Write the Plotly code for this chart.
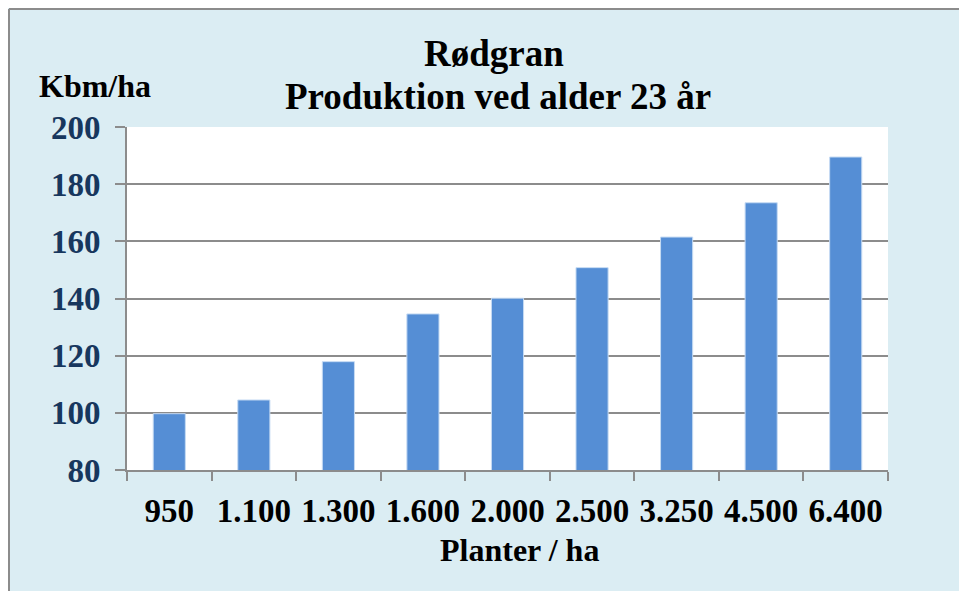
import plotly.graph_objects as go

categories = ["950", "1.100", "1.300", "1.600", "2.000", "2.500", "3.250", "4.500", "6.400"]
values = [99.7, 104.5, 117.9, 134.6, 140.1, 150.8, 161.5, 173.5, 189.5]
y_ticks = [80, 100, 120, 140, 160, 180, 200]

title_line1 = "Rødgran"
title_line2 = "Produktion ved alder 23 år"
y_title = "Kbm/ha"
x_title = "Planter / ha"

FONT = "Liberation Serif"
BG = "#DBEDF3"
GRID = "#8C8C8C"

# the page body adds an 8px offset; layout positions are given in screen px minus that
OFF = 8

fig = go.Figure()
fig.add_trace(go.Bar(
    x=categories, y=values,
    marker=dict(color="#558ED5", line=dict(color="#C6DBF3", width=1)),
    width=0.38,
))

W, H = 967, 591
L, R, T, B = 127 - OFF, 888 - OFF, 127 - OFF, 470 - OFF

def px_x(px):
    return (px - OFF - L) / (R - L)

def px_y(py):
    return (B - (py - OFF)) / (B - T)

def label(text, x, y, size):
    return dict(text="<b>" + text + "</b>", x=px_x(x), y=px_y(y), xref="paper", yref="paper",
                xanchor="center", yanchor="middle", showarrow=False,
                font=dict(family=FONT, size=size, color="black"))

fig.update_layout(
    width=W, height=H,
    margin=dict(l=L, r=W - R, t=T, b=H - B),
    paper_bgcolor=BG, plot_bgcolor="white",
    showlegend=False,
    font=dict(family=FONT, size=32, color="black"),
    xaxis=dict(
        type="category",
        tickson="boundaries",
        ticks="outside", ticklen=9, tickwidth=2, tickcolor=GRID,
        showline=True, linecolor=GRID, linewidth=2,
        showgrid=False,
        tickfont=dict(family=FONT, size=33, color="black", weight="bold"),
        ticklabelstandoff=10,
    ),
    yaxis=dict(
        range=[80, 200], tickvals=y_ticks,
        ticks="outside", ticklen=10, tickwidth=2, tickcolor=GRID,
        showline=True, linecolor=GRID, linewidth=2,
        showgrid=True, gridcolor=GRID, gridwidth=2,
        zeroline=False,
        tickfont=dict(family=FONT, size=33, color="#17375E", weight="bold"),
        ticklabelstandoff=8,
    ),
    shapes=[
        dict(type="line", xref="paper", yref="paper",
             x0=px_x(9), x1=px_x(1000), y0=px_y(9), y1=px_y(9),
             line=dict(color="#8C8C8C", width=2), layer="below"),
        dict(type="line", xref="paper", yref="paper",
             x0=px_x(9), x1=px_x(9), y0=px_y(9), y1=px_y(700),
             line=dict(color="#8C8C8C", width=2), layer="below"),
    ],
    annotations=[
        label(title_line1, 494, 54, 37),
        label(title_line2, 498, 96, 37),
        label(y_title, 95, 86, 32),
        label(x_title, 519, 550, 32),
    ],
)

fig.write_html("out.html")
